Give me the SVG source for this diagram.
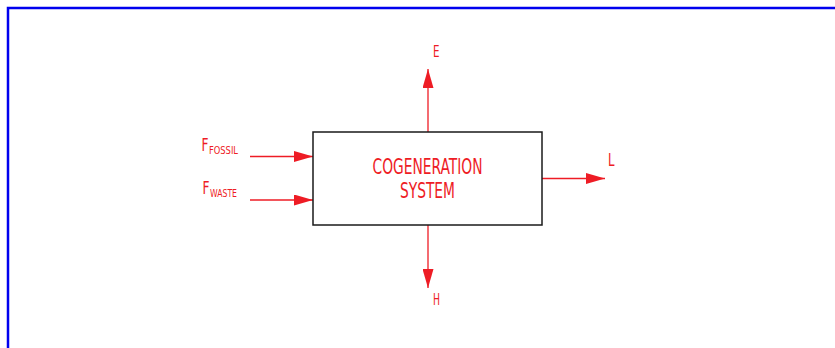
<svg xmlns="http://www.w3.org/2000/svg" width="835" height="348" viewBox="0 0 835 348">
<style>
.t{font-family:"Liberation Sans Narrow","DejaVu Sans Condensed","Liberation Sans",sans-serif;fill:#ee1c25;font-weight:normal}
.c{stroke:#ee1c25;stroke-width:1.3;fill:none}
</style>
<defs>
<marker id="ah" viewBox="0 0 19 11" refX="19" refY="5.5" markerWidth="19" markerHeight="11" markerUnits="userSpaceOnUse" orient="auto">
<path d="M0,0 L19,5.5 L0,11 Z" fill="#ee1c25"/>
</marker>
</defs>
<rect width="835" height="348" fill="#fff"/>
<path d="M8,348 V8 H835" fill="none" stroke="#0000ee" stroke-width="2.5"/>
<g id="connectors">
<line class="c" x1="428" y1="132" x2="428" y2="69" marker-end="url(#ah)"/>
<line class="c" x1="428" y1="225" x2="428" y2="288" marker-end="url(#ah)"/>
<line class="c" x1="542" y1="178.5" x2="605" y2="178.5" marker-end="url(#ah)"/>
<line class="c" x1="250" y1="156.5" x2="313" y2="156.5" marker-end="url(#ah)"/>
<line class="c" x1="250" y1="200" x2="313" y2="200" marker-end="url(#ah)"/>
</g>
<g id="system">
<rect x="313" y="132" width="229" height="93" fill="none" stroke="#1a1a1a" stroke-width="1.5"/>
<text class="t" x="427.5" y="174" font-size="21" text-anchor="middle" textLength="110" lengthAdjust="spacingAndGlyphs">COGENERATION</text>
<text class="t" x="427.5" y="198" font-size="21" text-anchor="middle" textLength="55" lengthAdjust="spacingAndGlyphs">SYSTEM</text>
</g>
<g id="E"><text class="t" x="433" y="57" font-size="16.5" textLength="6.5" lengthAdjust="spacingAndGlyphs">E</text></g>
<g id="H"><text class="t" x="433" y="305" font-size="16.5" textLength="7" lengthAdjust="spacingAndGlyphs">H</text></g>
<g id="L"><text class="t" x="608" y="166" font-size="17.5" textLength="6.5" lengthAdjust="spacingAndGlyphs">L</text></g>
<g id="ffossil"><text class="t" x="201.5" y="151" font-size="17"><tspan textLength="7" lengthAdjust="spacingAndGlyphs">F</tspan><tspan font-size="11" dy="3" dx="0.5" textLength="29" lengthAdjust="spacingAndGlyphs">FOSSIL</tspan></text></g>
<g id="fwaste"><text class="t" x="202.5" y="193.5" font-size="17"><tspan textLength="7" lengthAdjust="spacingAndGlyphs">F</tspan><tspan font-size="11" dy="3" dx="0.5" textLength="27" lengthAdjust="spacingAndGlyphs">WASTE</tspan></text></g>
</svg>
